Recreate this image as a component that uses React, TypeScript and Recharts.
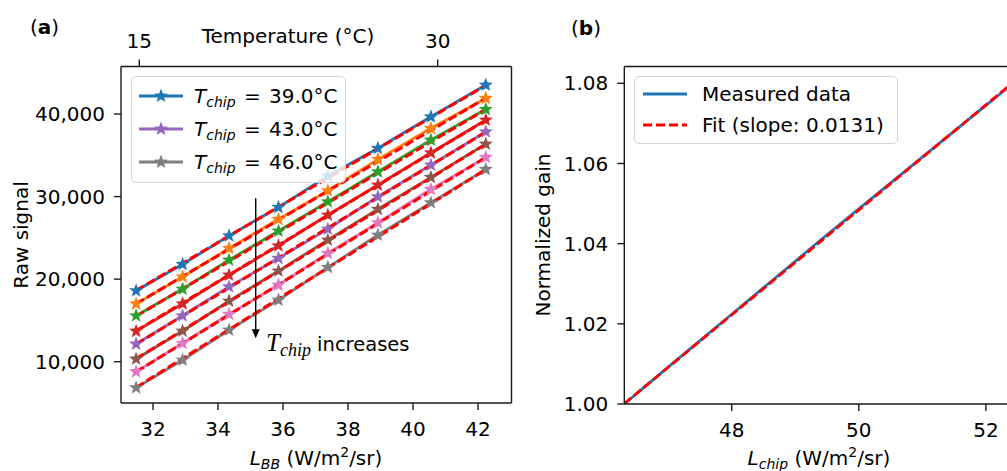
import { LineChart, Line, XAxis, YAxis, ReferenceLine, ReferenceDot } from "recharts";

// panel (a): raw signal vs blackbody radiance, one series per chip temperature
const lbb = [31.48, 32.91, 34.34, 35.86, 37.38, 38.92, 40.55, 42.24];
const tchip = [39.0, 40.0, 41.0, 42.0, 43.0, 44.0, 45.0, 46.0];
const signalT39 = [18600, 21800, 25260, 28700, 32490, 35850, 39670, 43510];
const signalT40 = [17000, 20290, 23730, 27250, 30710, 34510, 38270, 41900];
const signalT41 = [15570, 18800, 22320, 25830, 29380, 33010, 36850, 40570];
const signalT42 = [13700, 17020, 20500, 24050, 27770, 31400, 35310, 39270];
const signalT43 = [12140, 15570, 19080, 22520, 26070, 29980, 33820, 37860];
const signalT44 = [10330, 13720, 17350, 20990, 24740, 28460, 32330, 36370];
const signalT45 = [8790, 12230, 15740, 19290, 23130, 26830, 30880, 34750];
const signalT46 = [6850, 10200, 13840, 17470, 21430, 25340, 29260, 33300];
const signals = [signalT39, signalT40, signalT41, signalT42, signalT43, signalT44, signalT45, signalT46];

// red dashed linear fits, start / end values
const fitLbb = [31.48, 42.24];
const fitStart = [18620, 17010, 15500, 13730, 12120, 10350, 8760, 6880];
const fitEnd = [43480, 41930, 40560, 39250, 37830, 36360, 34760, 33280];

const legendIdx = [0, 4, 7];
const xTicksA = [32, 34, 36, 38, 40, 42];
const yTicksA = [10000, 20000, 30000, 40000];
const tempTicks = [15, 30];

// panel (b): normalized gain vs chip radiance
const lchip = [46.31, 47.0, 48.0, 49.0, 49.39, 50.0, 51.0, 52.0, 52.45];
const gain = [1.0, 1.0092, 1.0224, 1.0356, 1.0408, 1.0487, 1.0616, 1.0745, 1.0803];
const fitLchip = [46.31, 52.45];
const fitGain = [1.0001, 1.0805];
const xTicksB = [48, 50, 52];
const yTicksB = [1.0, 1.02, 1.04, 1.06, 1.08];

const COLORS = ["#1f77b4", "#ff7f0e", "#2ca02c", "#d62728", "#9467bd", "#8c564b", "#e377c2", "#7f7f7f"];
const FONT = "'DejaVu Sans', sans-serif";
const SERIF = "'Liberation Serif', 'DejaVu Serif', serif";

const tickStyle = { fill: "#000", fontSize: 20, fontFamily: FONT };
const axisStroke = { stroke: "#1a1a1a", strokeWidth: 1.4 };

function starPath(cx: number, cy: number, R: number) {
  const r = R * 0.42;
  let d = "";
  for (let i = 0; i < 10; i++) {
    const a = -Math.PI / 2 + (i * Math.PI) / 5;
    const rad = i % 2 === 0 ? R : r;
    d += (i === 0 ? "M" : "L") + (cx + rad * Math.cos(a)).toFixed(2) + "," + (cy + rad * Math.sin(a)).toFixed(2);
  }
  return d + "Z";
}

const seriesData = signals.map((s) => lbb.map((x, i) => ({ x, y: s[i] })));
const fitData = fitStart.map((s, i) => [
  { x: fitLbb[0], y: s },
  { x: fitLbb[1], y: fitEnd[i] },
]);
// invisible carrier so the top temperature axis gets drawn
const tempData = tempTicks.map((t) => ({ t, y: yTicksA[0] }));
const gainData = lchip.map((x, i) => ({ x, y: gain[i] }));
const gainFitData = fitLchip.map((x, i) => ({ x, y: fitGain[i] }));

function Tchip({ serif = false }: { serif?: boolean }) {
  if (serif) {
    return (
      <span style={{ fontFamily: SERIF, fontStyle: "italic" }}>
        <span style={{ fontSize: 25 }}>T</span>
        <span style={{ fontSize: 18, position: "relative", top: 5 }}>chip</span>
      </span>
    );
  }
  return (
    <span style={{ fontStyle: "italic" }}>
      T<span style={{ fontSize: 14, position: "relative", top: 4 }}>chip</span>
    </span>
  );
}

function LegendHandle({ color, star, dashed }: { color: string; star?: boolean; dashed?: boolean }) {
  return (
    <svg width={46} height={20} style={{ display: "block" }}>
      <line x1={1} y1={10} x2={45} y2={10} stroke={color} strokeWidth={2.8} strokeDasharray={dashed ? "9 4" : undefined} />
      {star && <path d={starPath(23, 10, 7.5)} fill={color} />}
    </svg>
  );
}

function Arrowhead(props: any) {
  const { cx, cy } = props;
  return <path d={`M${cx - 4},${cy - 9} L${cx + 4},${cy - 9} L${cx},${cy} Z`} fill="#000" />;
}

export default function App() {
  const abs = (left: number, top: number): React.CSSProperties => ({ position: "absolute", left, top });
  return (
    <div
      style={{
        position: "fixed",
        left: 0,
        top: 0,
        width: 1007,
        height: 471,
        overflow: "hidden",
        background: "#fff",
        fontFamily: FONT,
        color: "#000",
      }}
    >
      {/* panel (a) */}
      <div style={abs(0, 0)}>
        <LineChart width={520} height={471} margin={{ top: 36.5, right: 8.5, bottom: 38, left: 61 }}>
          <XAxis
            dataKey="x"
            type="number"
            domain={[31.015, 43.03]}
            ticks={xTicksA}
            allowDataOverflow
            height={30}
            tick={tickStyle}
            tickSize={7}
            tickMargin={12}
            axisLine={axisStroke}
            tickLine={axisStroke}
          />
          <XAxis
            xAxisId="temp"
            dataKey="t"
            orientation="top"
            type="number"
            domain={[14.08, 33.71]}
            ticks={tempTicks}
            allowDataOverflow
            height={30}
            tick={tickStyle}
            tickSize={7}
            tickMargin={12}
            axisLine={axisStroke}
            tickLine={axisStroke}
          />
          <YAxis
            type="number"
            domain={[4994, 45758]}
            ticks={yTicksA}
            allowDataOverflow
            width={60}
            tick={tickStyle}
            tickSize={7}
            tickMargin={9}
            axisLine={axisStroke}
            tickLine={axisStroke}
            tickFormatter={(v: number) => v.toLocaleString("en-US")}
          />
          <ReferenceLine x={43.03} stroke="#1a1a1a" strokeWidth={1.4} />
          <Line
            xAxisId="temp"
            data={tempData}
            dataKey="y"
            stroke="none"
            dot={false}
            activeDot={false}
            isAnimationActive={false}
          />
          {seriesData.map((d, k) => (
            <Line
              key={`s${k}`}
              data={d}
              dataKey="y"
              type="linear"
              stroke={COLORS[k]}
              strokeWidth={2.8}
              isAnimationActive={false}
              dot={(p: any) => <path key={`d${k}-${p.index}`} d={starPath(p.cx, p.cy, 7.5)} fill={COLORS[k]} />}
              activeDot={false}
            />
          ))}
          {fitData.map((d, k) => (
            <Line
              key={`f${k}`}
              data={d}
              dataKey="y"
              type="linear"
              stroke="#ff0000"
              strokeWidth={3}
              strokeDasharray="9 3.5"
              dot={false}
              activeDot={false}
              isAnimationActive={false}
            />
          ))}
          <ReferenceLine
            segment={[
              { x: 35.16, y: 29800 },
              { x: 35.16, y: 13600 },
            ]}
            stroke="#000"
            strokeWidth={1.4}
          />
          <ReferenceDot x={35.16} y={12850} shape={Arrowhead} />
        </LineChart>
      </div>

      {/* panel (b) */}
      <div style={abs(520, 0)}>
        <LineChart width={520} height={471} margin={{ top: 66.5, right: 25.5, bottom: 37, left: 44.3 }}>
          <XAxis
            dataKey="x"
            type="number"
            domain={[46.31, 52.45]}
            ticks={xTicksB}
            allowDataOverflow
            height={30}
            tick={tickStyle}
            tickSize={7}
            tickMargin={12}
            axisLine={axisStroke}
            tickLine={axisStroke}
          />
          <YAxis
            type="number"
            domain={[1.0, 1.0842]}
            ticks={yTicksB}
            allowDataOverflow
            width={60}
            tick={tickStyle}
            tickSize={7}
            tickMargin={9}
            axisLine={axisStroke}
            tickLine={axisStroke}
            tickFormatter={(v: number) => v.toFixed(2)}
          />
          <ReferenceLine y={1.0842} stroke="#1a1a1a" strokeWidth={1.4} />
          <Line data={gainData} dataKey="y" type="linear" stroke="#1f77b4" strokeWidth={2.8} dot={false} activeDot={false} isAnimationActive={false} />
          <Line
            data={gainFitData}
            dataKey="y"
            type="linear"
            stroke="#ff0000"
            strokeWidth={2.8}
            strokeDasharray="9 3.5"
            dot={false}
            activeDot={false}
            isAnimationActive={false}
          />
        </LineChart>
      </div>

      {/* panel letters and axis titles */}
      <div style={{ ...abs(30, 15), fontSize: 20, lineHeight: "24px" }}>
        (<b>a</b>)
      </div>
      <div style={{ ...abs(571, 16), fontSize: 20, lineHeight: "24px" }}>
        (<b>b</b>)
      </div>
      <div style={{ ...abs(288, 24), fontSize: 20, lineHeight: "24px", transform: "translateX(-50%)", whiteSpace: "nowrap" }}>
        Temperature (°C)
      </div>
      <div
        style={{
          ...abs(21, 235),
          fontSize: 20,
          lineHeight: "24px",
          whiteSpace: "nowrap",
          transform: "translate(-50%, -50%) rotate(-90deg)",
        }}
      >
        Raw signal
      </div>
      <div
        style={{
          ...abs(543, 235),
          fontSize: 20,
          lineHeight: "24px",
          whiteSpace: "nowrap",
          transform: "translate(-50%, -50%) rotate(-90deg)",
        }}
      >
        Normalized gain
      </div>
      <div style={{ ...abs(316, 446), fontSize: 20, lineHeight: "24px", transform: "translateX(-50%)", whiteSpace: "nowrap" }}>
        <i>L</i>
        <i style={{ fontSize: 14, position: "relative", top: 4 }}>BB</i> (W/m<sup style={{ fontSize: 14, lineHeight: 0 }}>2</sup>/sr)
      </div>
      <div style={{ ...abs(819, 446), fontSize: 20, lineHeight: "24px", transform: "translateX(-50%)", whiteSpace: "nowrap" }}>
        <i>L</i>
        <i style={{ fontSize: 14, position: "relative", top: 4 }}>chip</i> (W/m<sup style={{ fontSize: 14, lineHeight: 0 }}>2</sup>/sr)
      </div>

      {/* annotation */}
      <div style={{ ...abs(266, 329), fontSize: 19.5, lineHeight: "28px", whiteSpace: "nowrap" }}>
        <Tchip serif /> increases
      </div>

      {/* legend (a) */}
      <div
        style={{
          ...abs(131, 76),
          width: 215,
          height: 107,
          boxSizing: "border-box",
          border: "1px solid #d4d4d4",
          borderRadius: 5,
          background: "rgba(255,255,255,0.8)",
        }}
      >
        {legendIdx.map((k, j) => (
          <div key={k} style={{ position: "absolute", left: 6, top: 7 + j * 33, display: "flex", alignItems: "center", height: 24 }}>
            <LegendHandle color={COLORS[k]} star />
            <span style={{ marginLeft: 10, fontSize: 20, whiteSpace: "nowrap", wordSpacing: 2 }}>
              <Tchip /> = {tchip[k].toFixed(1)}°C
            </span>
          </div>
        ))}
      </div>

      {/* legend (b) */}
      <div
        style={{
          ...abs(634, 76),
          width: 264,
          height: 68,
          boxSizing: "border-box",
          border: "1px solid #d4d4d4",
          borderRadius: 5,
          background: "rgba(255,255,255,0.8)",
        }}
      >
        <div style={{ position: "absolute", left: 7, top: 5, display: "flex", alignItems: "center", height: 24 }}>
          <LegendHandle color="#1f77b4" />
          <span style={{ marginLeft: 14, fontSize: 20, whiteSpace: "nowrap" }}>Measured data</span>
        </div>
        <div style={{ position: "absolute", left: 7, top: 36, display: "flex", alignItems: "center", height: 24 }}>
          <LegendHandle color="#ff0000" dashed />
          <span style={{ marginLeft: 14, fontSize: 20, whiteSpace: "nowrap" }}>Fit (slope: 0.0131)</span>
        </div>
      </div>
    </div>
  );
}
